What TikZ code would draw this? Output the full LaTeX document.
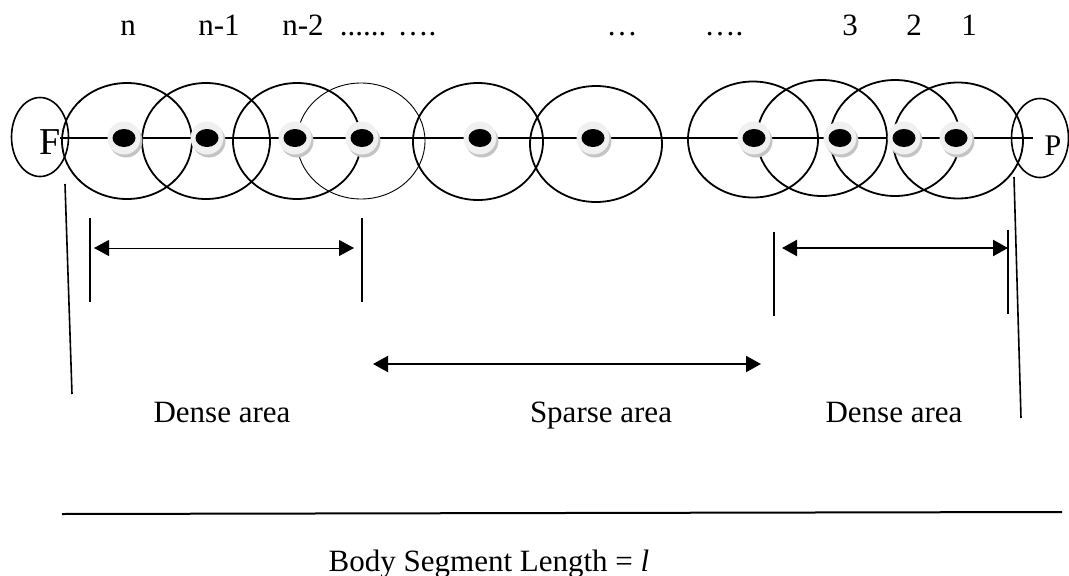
\documentclass[tikz,border=0pt]{standalone}
\usepackage{fontspec}
\setmainfont{Liberation Serif}
\usetikzlibrary{shapes.geometric,arrows.meta}
\definecolor{haloC}{RGB}{240,240,240}
\definecolor{shadC}{RGB}{196,196,196}
\tikzset{ftri/.tip={Triangle[length=15pt,width=16pt]}}
\begin{document}
\begin{tikzpicture}[x=1pt,y=-1pt,
  ell/.style={draw,ellipse,line width=1.8pt,inner sep=0pt,minimum width=130pt,minimum height=116pt},
  thinell/.style={ell,line width=0.9pt},
  endell/.style={draw,ellipse,line width=1.6pt,inner sep=0pt,minimum width=57pt,minimum height=79pt},
  halo/.style={circle,fill=haloC,inner sep=0pt,minimum size=33pt},
  shad/.style={circle,fill=shadC,inner sep=0pt,minimum size=33pt},
  blackdot/.style={ellipse,fill=black,inner sep=0pt,minimum width=23pt,minimum height=18pt},
  lbl/.style={font=\fontsize{31}{36}\selectfont,anchor=base,inner sep=0pt},
  tick/.style={line width=1.6pt}
]
\useasboundingbox (0,0) rectangle (1069,576);

% end ellipses
\node[endell] (fe) at (40,137) {};
\node[endell] (pe) at (1040,138) {};

% big ellipses
\node[ell] (e1) at (127,141) {};
\node[ell, minimum width=128pt] (e2) at (206,141) {};
\node[ell, minimum width=128pt] (e3) at (297,141) {};
\node[thinell, minimum width=128pt] (e4) at (361,141) {};
\node[ell, minimum height=117pt] (e5) at (478,141.5) {};
\node[ell, minimum width=132pt] (e6) at (596,144) {};
\node[ell] (e7) at (753,139.5) {};
\node[ell] (e8) at (822,138) {};
\node[ell] (e9) at (895,138) {};
\node[ell] (e10) at (958,140.5) {};

% axis
\coordinate (axL) at (60,138);
\coordinate (axR) at (1033,138);
\draw[line width=1.8pt] (axL) -- (axR);

% dots
\foreach \i/\x in {1/124,2/207,3/295,4/362,5/480,6/593,7/754,8/840,9/904,10/956}{
  \node[shad] at ({\x+2},141) {};
  \node[halo] at (\x,138) {};
  \node[blackdot] (d\i) at (\x,138) {};
}

% end letters
\node[inner sep=0pt,font=\fontsize{38}{40}\selectfont] (F) at (50,142) {F};
\node[inner sep=0pt,font=\fontsize{30}{34}\selectfont] (P) at (1053,146) {P};

% top labels
\node[lbl] (tn) at (128,35) {n};
\node[lbl] (tn1) at (219,35) {n-1};
\node[lbl] (tn2) at (303,35) {n-2};
\node[lbl] (td1) at (363,35) {......};
\node[lbl] (td2) at (417,35) {….};
\node[lbl] (td3) at (622,35) {…};
\node[lbl] (td4) at (724,35) {….};
\node[lbl] (t3) at (850,35) {3};
\node[lbl] (t2) at (914,35) {2};
\node[lbl] (t1) at (969,35) {1};

% long slanted lines
\coordinate (la) at (65,184);
\coordinate (lb) at (72,394);
\coordinate (ra) at (1014,177);
\coordinate (rb) at (1021,418);
\draw[tick] (la) -- (lb);
\draw[tick] (ra) -- (rb);

% short verticals
\coordinate (v1a) at (90,218);  \coordinate (v1b) at (90,302);
\coordinate (v2a) at (362,218); \coordinate (v2b) at (362,302);
\coordinate (v3a) at (774,232); \coordinate (v3b) at (774,316);
\coordinate (v4a) at (1008,230); \coordinate (v4b) at (1008,314);
\draw[tick] (v1a) -- (v1b);
\draw[tick] (v2a) -- (v2b);
\draw[tick] (v3a) -- (v3b);
\draw[tick] (v4a) -- (v4b);

% arrows
\coordinate (a1l) at (94,248);  \coordinate (a1r) at (354,248);
\coordinate (a2l) at (782,248); \coordinate (a2r) at (1008,248);
\coordinate (a3l) at (373,364); \coordinate (a3r) at (761,364);
\draw[line width=1pt,ftri-ftri] (a1l) -- (a1r);
\draw[line width=2.4pt,ftri-ftri] (a2l) -- (a2r);
\draw[line width=2pt,ftri-ftri] (a3l) -- (a3r);

% area labels
\node[lbl] (dl) at (222,422) {Dense area};
\node[lbl] (sp) at (601,422) {Sparse area};
\node[lbl] (dr) at (894,422) {Dense area};

% body segment
\coordinate (bl) at (62,514);
\coordinate (br) at (1062,512);
\draw[line width=2pt] (bl) -- (br);
\node[lbl] (body) at (489,571) {Body Segment Length = {\itshape l}};
\end{tikzpicture}
\end{document}
